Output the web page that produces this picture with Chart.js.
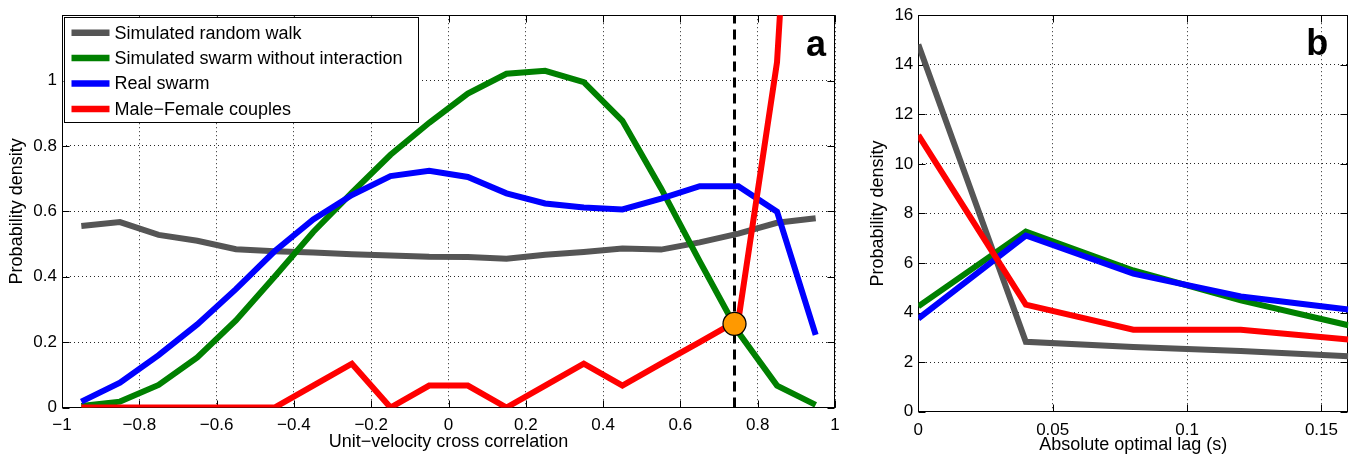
<!DOCTYPE html>
<html>
<head>
<meta charset="utf-8">
<script src="https://cdn.jsdelivr.net/npm/chart.js@4.4.1/dist/chart.umd.min.js"></script>
<style>
html,body{margin:0;padding:0;background:#fff;overflow:hidden;}
#wrapA{position:absolute;left:0;top:0;width:850px;height:456px;}
#wrapB{position:absolute;left:856px;top:0;width:498px;height:456px;}
</style>
</head>
<body>
<div id="wrapA"><canvas id="chartA"></canvas></div>
<div id="wrapB"><canvas id="chartB"></canvas></div>
<script>
// ---------- Panel a data ----------
const seriesNames = ['Simulated random walk', 'Simulated swarm without interaction', 'Real swarm', 'Male\u2212Female couples'];
const binsA = [-0.95,-0.85,-0.75,-0.65,-0.55,-0.45,-0.35,-0.25,-0.15,-0.05,0.05,0.15,0.25,0.35,0.45,0.55,0.65,0.75,0.85,0.95];
const randomWalkA   = [0.555,0.567,0.528,0.510,0.484,0.478,0.474,0.469,0.465,0.461,0.460,0.455,0.467,0.476,0.486,0.483,0.505,0.532,0.565,0.579];
const noInteractA   = [0.005,0.018,0.069,0.153,0.266,0.400,0.537,0.657,0.773,0.871,0.960,1.021,1.030,0.995,0.877,0.670,0.447,0.230,0.067,0.008];
const realSwarmA    = [0.018,0.076,0.160,0.254,0.362,0.478,0.575,0.650,0.708,0.724,0.705,0.655,0.624,0.612,0.606,0.639,0.677,0.677,0.599,0.222];
const couplesA      = [0,0,0,0,0,0,0.067,0.134,0,0.067,0.067,0,0.067,0.134,0.067,0.134,0.200,0.267,1.056,3.0];
const thresholdX = 0.74;
const thresholdSpan = [0, 1.2];
const markerA = {x: 0.74, y: 0.256};
const xTicksA = [-1,-0.8,-0.6,-0.4,-0.2,0,0.2,0.4,0.6,0.8,1];
const xTickLabelsA = ['\u22121','\u22120.8','\u22120.6','\u22120.4','\u22120.2','0','0.2','0.4','0.6','0.8','1'];
const yTicksA = [0,0.2,0.4,0.6,0.8,1];
const yTickLabelsA = ['0','0.2','0.4','0.6','0.8','1'];

// ---------- Panel b data ----------
const lagsB = [0,0.04,0.08,0.12,0.16];
const randomWalkB = [14.82,2.82,2.61,2.45,2.24];
const noInteractB = [4.25,7.27,5.70,4.49,3.49];
const realSwarmB  = [3.76,7.11,5.57,4.65,4.12];
const couplesB    = [11.16,4.32,3.31,3.31,2.91];
const xTicksB = [0,0.05,0.1,0.15];
const xTickLabelsB = ['0','0.05','0.1','0.15'];
const yTicksB = [0,2,4,6,8,10,12,14,16];
const yTickLabelsB = ['0','2','4','6','8','10','12','14','16'];

const colors = ['#555555','#008000','#0000FF','#FF0000'];
const FAM = '"Liberation Sans", Arial, Helvetica, sans-serif';

function pts(xs, ys){ return xs.map((x,i)=>({x:x, y:ys[i]})); }

function seriesDatasets(xs, arrs){
  return arrs.map((a,i)=>({
    label: seriesNames[i],
    data: pts(xs, a),
    borderColor: colors[i],
    backgroundColor: colors[i],
    borderWidth: 6,
    pointRadius: 0,
    pointHoverRadius: 0,
    fill: false,
    tension: 0,
    clip: 0,
    order: 10 - i
  }));
}

function axis(opts){
  return {
    type: 'linear',
    min: opts.min, max: opts.max,
    afterBuildTicks: s => { s.ticks = opts.ticks.map(v => ({value: v})); },
    afterFit: s => { if (opts.horizontal) s.height = opts.size; else s.width = opts.size; },
    ticks: {
      autoSkip: false, maxRotation: 0, minRotation: 0,
      color: '#000', padding: opts.horizontal ? 8 : 5,
      font: {family: FAM, size: 17},
      callback: (v, i) => opts.labels[i]
    },
    grid: {color: 'rgba(0,0,0,0.85)', lineWidth: 1, drawTicks: false},
    border: {display: false, dash: [1,3]},
    title: {
      display: true, text: opts.title, color: '#000',
      font: {family: FAM, size: 18},
      padding: opts.titlePad
    }
  };
}

const boxPlugin = {
  id: 'box',
  beforeDatasetsDraw(chart){
    const {ctx, chartArea: a, scales} = chart;
    ctx.save();
    ctx.strokeStyle = '#000';
    ctx.lineWidth = 1;
    const L = Math.round(a.left)+0.5, R = Math.round(a.right)-0.5, T = Math.round(a.top)+0.5, B = Math.round(a.bottom)-0.5;
    ctx.strokeRect(L, T, R-L, B-T);
    const tl = 7;
    ctx.beginPath();
    scales.x.ticks.forEach(t => {
      const px = Math.round(scales.x.getPixelForValue(t.value))+0.5;
      ctx.moveTo(px, B); ctx.lineTo(px, B - tl);
      ctx.moveTo(px, T); ctx.lineTo(px, T + tl);
    });
    scales.y.ticks.forEach(t => {
      const py = Math.round(scales.y.getPixelForValue(t.value))+0.5;
      ctx.moveTo(L, py); ctx.lineTo(L + tl, py);
      ctx.moveTo(R, py); ctx.lineTo(R - tl, py);
    });
    ctx.stroke();
    ctx.restore();
  },
  afterDraw(chart){
    const o = chart.options.plugins.panelLabel;
    if (!o) return;
    const {ctx, chartArea: a} = chart;
    ctx.save();
    ctx.fillStyle = '#000';
    ctx.font = 'bold 36px ' + FAM;
    ctx.textAlign = 'left';
    ctx.textBaseline = 'alphabetic';
    ctx.fillText(o.text, a.right - o.dx, a.top + o.dy);
    ctx.restore();
  }
};

const legendPlugin = {
  id: 'boxLegend',
  afterDatasetsDraw(chart){
    if (!chart.options.plugins.boxLegend || !chart.options.plugins.boxLegend.show) return;
    const {ctx, chartArea: a} = chart;
    const x0 = a.left + 1.5, y0 = a.top + 1.5, w = 354, h = 105;
    ctx.save();
    ctx.fillStyle = '#fff';
    ctx.fillRect(x0, y0, w, h);
    ctx.strokeStyle = '#000';
    ctx.lineWidth = 1;
    ctx.strokeRect(Math.round(x0)+0.5, Math.round(y0)+0.5, w, h);
    ctx.font = '18px ' + FAM;
    ctx.textBaseline = 'middle';
    ctx.textAlign = 'left';
    for (let i = 0; i < 4; i++) {
      const ds = chart.data.datasets[i];
      const cy = y0 + 16 + i * 25.4;
      ctx.strokeStyle = ds.borderColor;
      ctx.lineWidth = 6.5;
      ctx.beginPath();
      ctx.moveTo(x0 + 8, cy); ctx.lineTo(x0 + 46, cy);
      ctx.stroke();
      ctx.fillStyle = '#000';
      ctx.fillText(ds.label, x0 + 51, cy + 1);
    }
    ctx.restore();
  }
};

Chart.register(boxPlugin, legendPlugin);

const common = {
  responsive: true,
  maintainAspectRatio: false,
  animation: false,
  devicePixelRatio: 1,
  events: []
};

// ---------- Chart a ----------
const dsA = seriesDatasets(binsA, [randomWalkA, noInteractA, realSwarmA, couplesA]);
dsA.push({
  label: 'threshold',
  data: thresholdSpan.map(y => ({x: thresholdX, y: y})),
  borderColor: '#000', borderWidth: 3, borderDash: [10,6],
  pointRadius: 0, clip: 0, order: 2
});
dsA.push({
  label: 'marker',
  data: [markerA],
  showLine: false,
  pointRadius: 11.5,
  pointBackgroundColor: '#FF9900',
  pointBorderColor: '#000',
  pointBorderWidth: 1.3,
  clip: false, order: 1
});

new Chart(document.getElementById('chartA'), {
  type: 'line',
  data: {datasets: dsA},
  options: Object.assign({}, common, {
    layout: {padding: {left: 0, right: 15, top: 12, bottom: 0}},
    scales: {
      x: axis({min: -1, max: 1, ticks: xTicksA, labels: xTickLabelsA, horizontal: true, size: 48.5,
               title: 'Unit\u2212velocity cross correlation', titlePad: {top: 0, bottom: 3}}),
      y: axis({min: 0, max: 1.2, ticks: yTicksA, labels: yTickLabelsA, horizontal: false, size: 62,
               title: 'Probability density', titlePad: {top: 6, bottom: 0}})
    },
    plugins: {
      legend: {display: false},
      tooltip: {enabled: false},
      boxLegend: {show: true},
      panelLabel: {text: 'a', dx: 29, dy: 41}
    }
  })
});

// ---------- Chart b ----------
const dsB = seriesDatasets(lagsB, [randomWalkB, noInteractB, realSwarmB, couplesB]);
new Chart(document.getElementById('chartB'), {
  type: 'line',
  data: {datasets: dsB},
  options: Object.assign({}, common, {
    layout: {padding: {left: 0, right: 5.7, top: 14, bottom: 0}},
    scales: {
      x: axis({min: 0, max: 0.16, ticks: xTicksB, labels: xTickLabelsB, horizontal: true, size: 44.3,
               title: 'Absolute optimal lag (s)', titlePad: {top: 0, bottom: 0}}),
      y: axis({min: 0, max: 16, ticks: yTicksB, labels: yTickLabelsB, horizontal: false, size: 62.3,
               title: 'Probability density', titlePad: {top: 11, bottom: 0}})
    },
    plugins: {
      legend: {display: false},
      tooltip: {enabled: false},
      boxLegend: {show: false},
      panelLabel: {text: 'b', dx: 42, dy: 40}
    }
  })
});
</script>
</body>
</html>
